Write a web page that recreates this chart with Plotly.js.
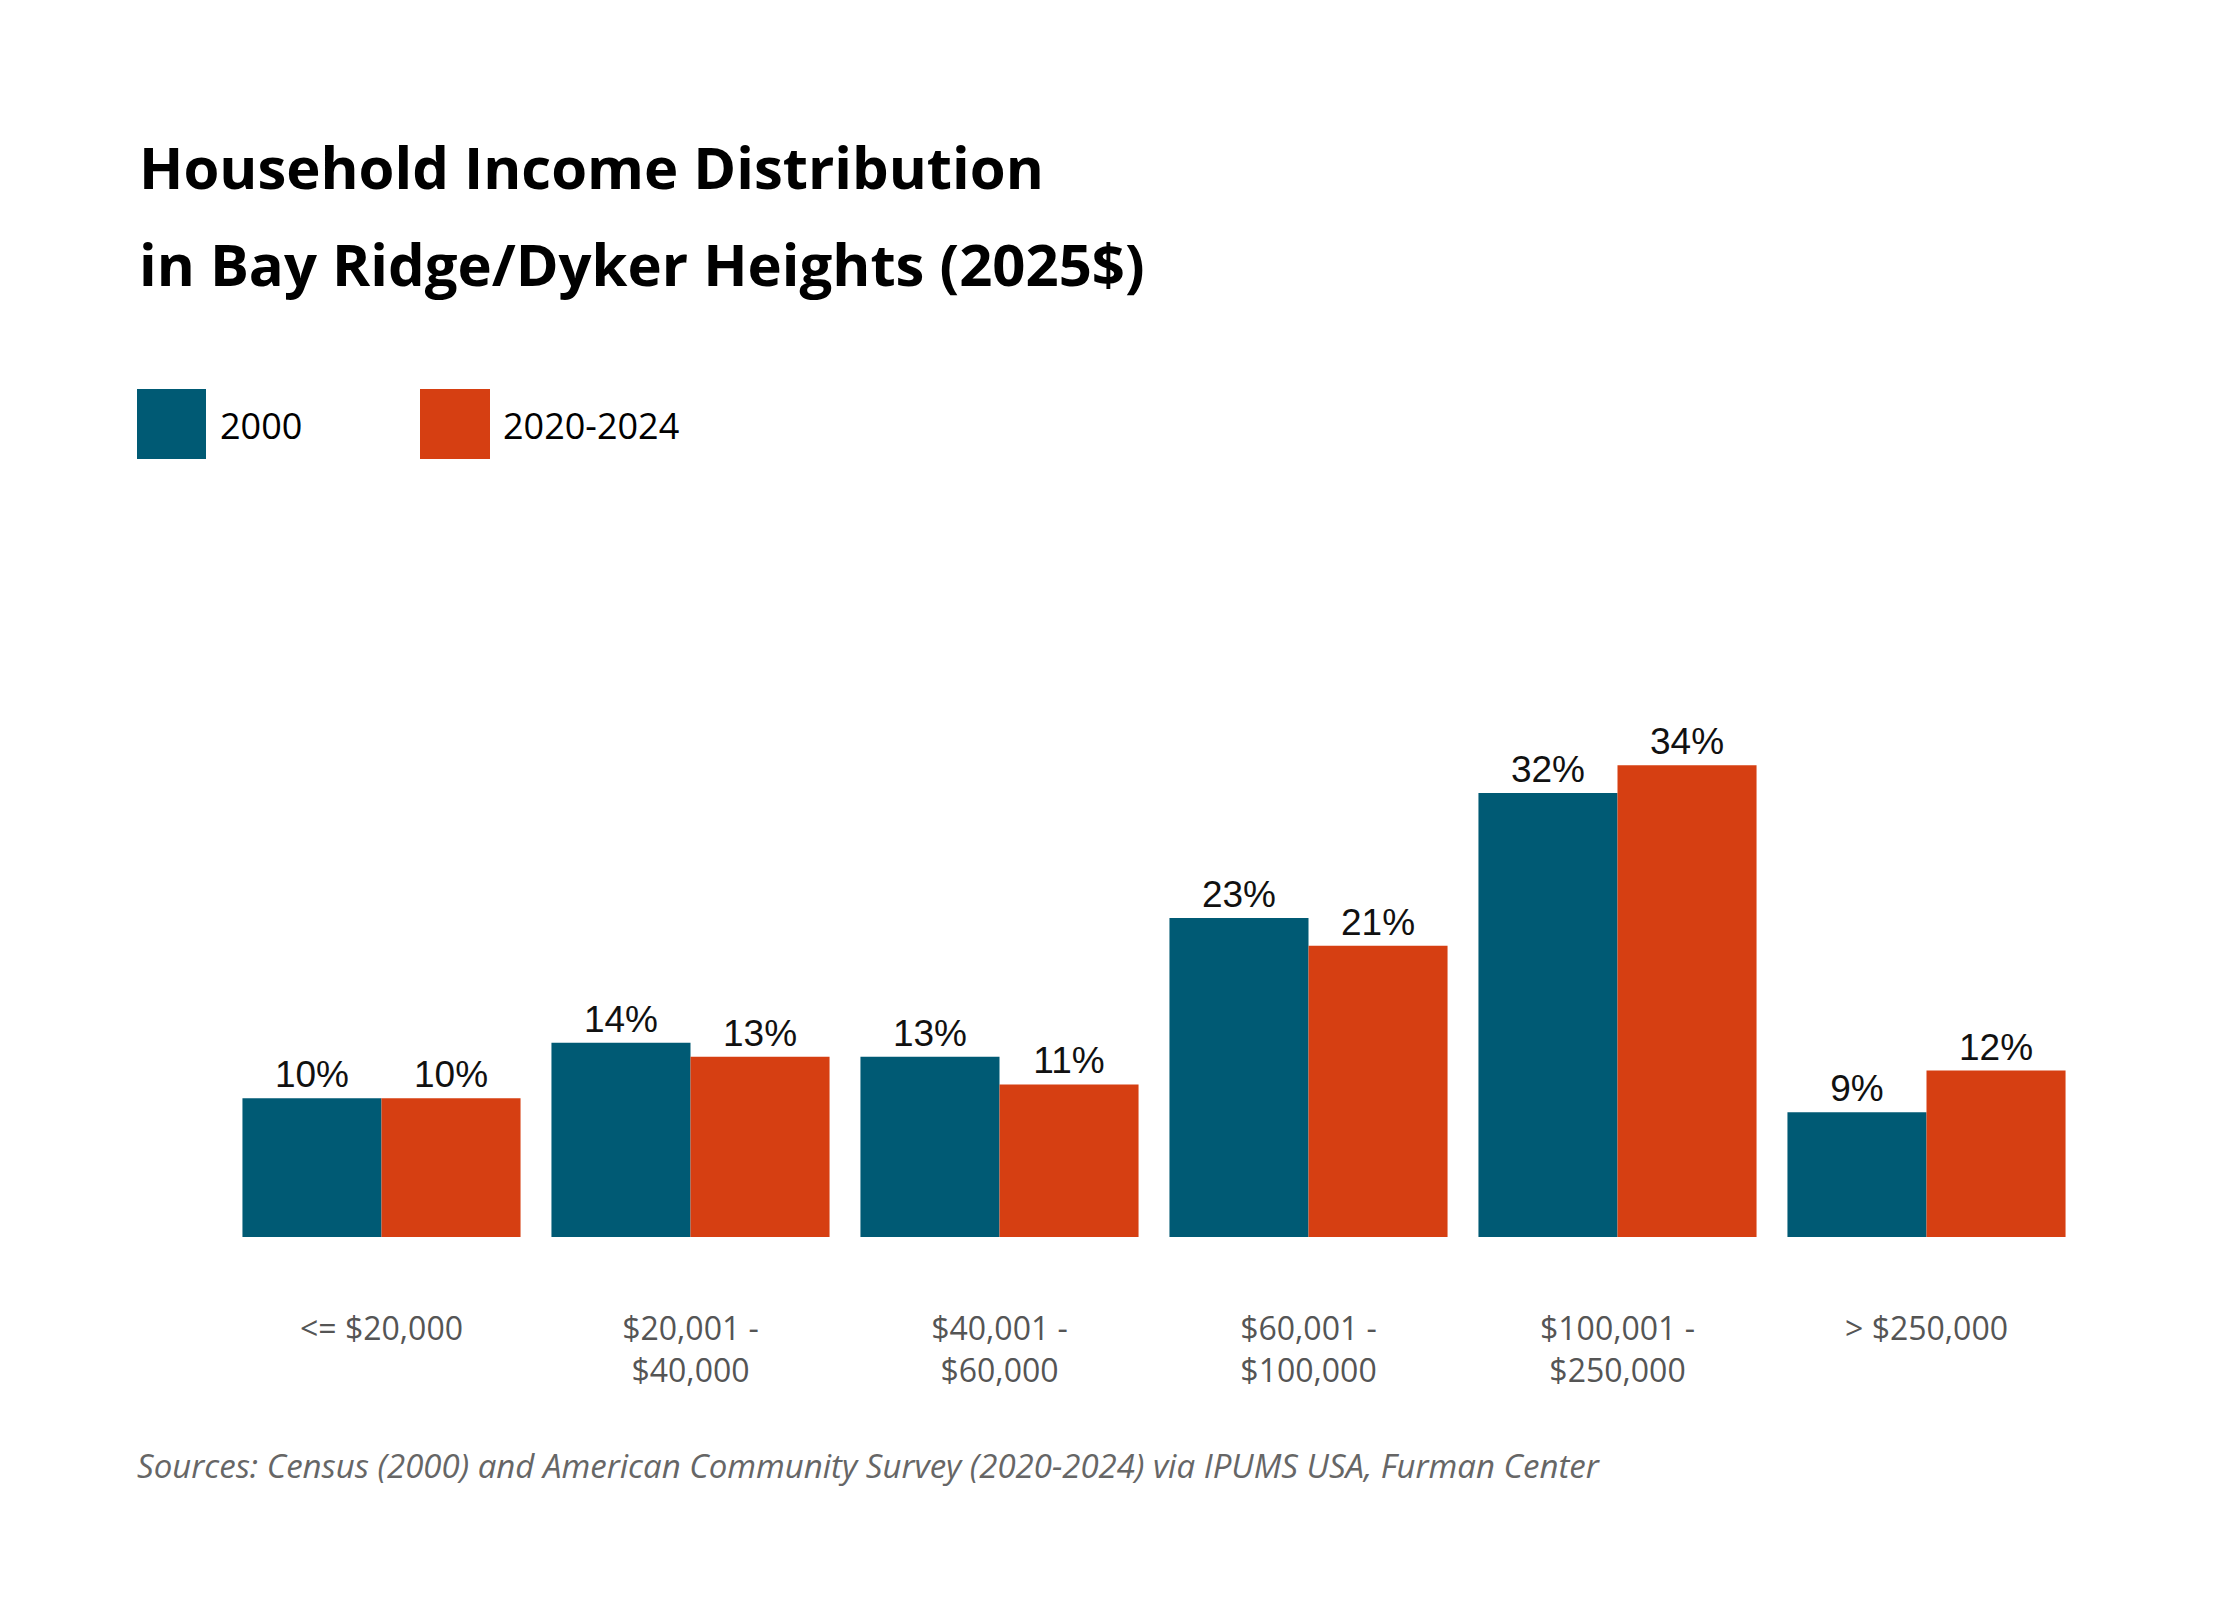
<!DOCTYPE html>
<html>
<head>
<meta charset="utf-8">
<script src="https://cdn.plot.ly/plotly-3.0.1.min.js"></script>
<style>
  html, body { margin: 0; padding: 0; background: #fff; }
  #chart { width: 2240px; height: 1600px; }
</style>
</head>
<body>
<div id="chart"></div>
<script>
  // ---------- Data ----------
  const categories = ["<= $20,000", "$20,001 -<br>$40,000", "$40,001 -<br>$60,000",
                      "$60,001 -<br>$100,000", "$100,001 -<br>$250,000", "> $250,000"];
  const catKeys = ["c1", "c2", "c3", "c4", "c5", "c6"];
  const values2000 = [10, 14, 13, 23, 32, 9];
  const values2024 = [10, 13, 11, 21, 34, 12];
  const seriesNames = ["2000", "2020-2024"];

  const C = { teal: "#005a74", orange: "#d63f12", text: "#000", muted: "#555" };
  const labelFont = { family: "Liberation Sans, Arial, sans-serif", size: 37, color: "#111" };

  function barTrace(name, vals, color) {
    return {
      type: "bar", name: name, x: catKeys, y: vals,
      marker: { color: color },
      text: vals.map(v => v + "%"), textposition: "outside",
      textfont: labelFont, cliponaxis: false, hoverinfo: "skip",
    };
  }

  const traces = [
    barTrace(seriesNames[0], values2000, C.teal),
    barTrace(seriesNames[1], values2024, C.orange),
  ];

  const layout = {
    width: 2240, height: 1600,
    paper_bgcolor: "#fff", plot_bgcolor: "#fff",
    margin: { l: 227, r: 159, t: 682, b: 363 },
    barmode: "group", bargap: 0.1, bargroupgap: 0,
    showlegend: false,
    xaxis: {
      tickvals: catKeys, ticktext: categories,
      showgrid: false, zeroline: false, showline: false, ticks: "",
      ticklabelstandoff: 70,
      tickfont: { family: "Open Sans, sans-serif", size: 32, color: C.muted },
    },
    yaxis: { range: [0, 40], visible: false, fixedrange: true },
    shapes: [
      { type: "rect", xref: "paper", yref: "paper", layer: "above",
        x0: (137 - 227) / 1854, x1: (206 - 227) / 1854,
        y0: (1600 - 363 - 459) / 555, y1: (1600 - 363 - 389) / 555,
        fillcolor: C.teal, line: { width: 0 } },
      { type: "rect", xref: "paper", yref: "paper", layer: "above",
        x0: (420 - 227) / 1854, x1: (490 - 227) / 1854,
        y0: (1600 - 363 - 459) / 555, y1: (1600 - 363 - 389) / 555,
        fillcolor: C.orange, line: { width: 0 } },
    ],
    annotations: [
      { xref: "paper", yref: "paper", x: (137 - 227) / 1854, y: (1237 - 166) / 555,
        xanchor: "left", yanchor: "middle", showarrow: false, align: "left",
        text: "<b>Household Income Distribution</b>",
        font: { family: "Open Sans, sans-serif", size: 58, color: C.text } },
      { xref: "paper", yref: "paper", x: (137 - 227) / 1854, y: (1237 - 264) / 555,
        xanchor: "left", yanchor: "middle", showarrow: false, align: "left",
        text: "<b>in Bay Ridge/Dyker Heights (2025$)</b>",
        font: { family: "Open Sans, sans-serif", size: 58, color: C.text } },
      { xref: "paper", yref: "paper", x: (218 - 227) / 1854, y: (1237 - 425) / 555,
        xanchor: "left", yanchor: "middle", showarrow: false,
        text: seriesNames[0], font: { family: "Open Sans, sans-serif", size: 36, color: C.text } },
      { xref: "paper", yref: "paper", x: (501 - 227) / 1854, y: (1237 - 425) / 555,
        xanchor: "left", yanchor: "middle", showarrow: false,
        text: seriesNames[1], font: { family: "Open Sans, sans-serif", size: 36, color: C.text } },
      { xref: "paper", yref: "paper", x: (135 - 227) / 1854, y: (1237 - 1465) / 555,
        xanchor: "left", yanchor: "middle", showarrow: false,
        text: "<i>Sources: Census (2000) and American Community Survey (2020-2024) via IPUMS USA, Furman Center</i>",
        font: { family: "Open Sans, sans-serif", size: 33, color: "#666" } },
    ],
  };

  Plotly.newPlot("chart", traces, layout, { displayModeBar: false, staticPlot: true });
</script>
</body>
</html>
